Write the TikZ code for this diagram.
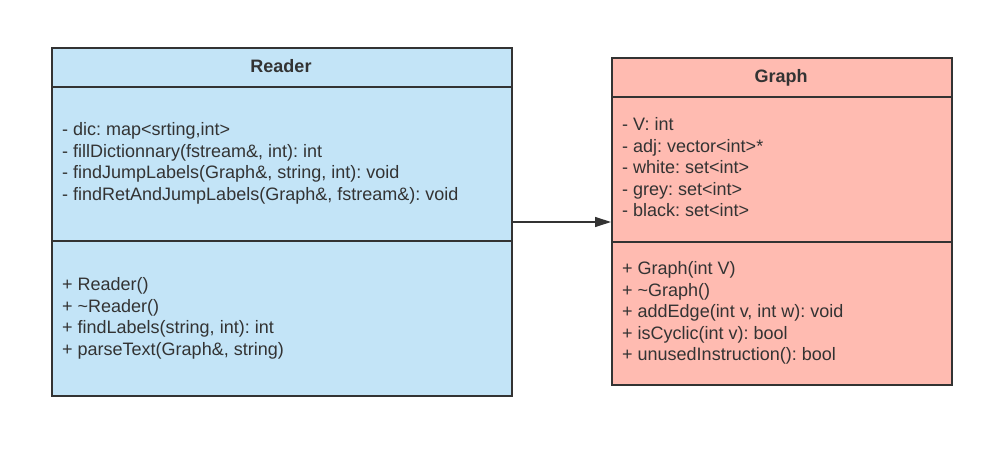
\documentclass[tikz,border=0pt]{standalone}
\usepackage{fontspec}
\setmainfont{Liberation Sans}
\usetikzlibrary{arrows.meta}
\definecolor{rblue}{RGB}{195,228,247}
\definecolor{gpink}{RGB}{255,187,177}
\definecolor{ink}{RGB}{51,51,51}
\frenchspacing
\begin{document}
\begin{tikzpicture}[x=1pt,y=1pt,
  cls/.style={draw=ink,line width=2pt,inner sep=0pt,anchor=south west},
  txt/.style={anchor=base west,inner sep=0pt,text=ink,font=\fontsize{18}{21}\selectfont},
  ttl/.style={anchor=base,inner sep=0pt,text=ink,font=\fontsize{18}{21}\selectfont\bfseries},
  dv/.style={draw=ink,line width=2pt},
  conn/.style={draw=ink,line width=1.2pt,-{Triangle[length=16pt,width=10pt]}}]
\useasboundingbox (0,0) rectangle (1004,452);
\fill[white] (0,0) rectangle (1004,452);
% Reader
\node[cls,fill=rblue,minimum width=460pt,minimum height=348pt] (reader) at (51,55) {};
\draw[dv] (51,365) -- (511,365);
\draw[dv] (51,211) -- (511,211);
\node[ttl] (rt) at (281,379.5) {Reader};
\node[txt] (ra1) at (62,316) {- dic: map<srting,int>};
\node[txt] (ra2) at (62,294.5) {- fillDictionnary(fstream\&, int): int};
\node[txt] (ra3) at (62,273) {- findJumpLabels(Graph\&, string, int): void};
\node[txt] (ra4) at (62,251.5) {- findRetAndJumpLabels(Graph\&, fstream\&): void};
\node[txt] (rm1) at (62,161) {+ Reader()};
\node[txt] (rm2) at (62,139.5) {+ \textasciitilde Reader()};
\node[txt] (rm3) at (62,118) {+ findLabels(string, int): int};
\node[txt] (rm4) at (62,96.5) {+ parseText(Graph\&, string)};
% Graph
\node[cls,fill=gpink,minimum width=340pt,minimum height=327pt] (graph) at (611,66) {};
\draw[dv] (611,355) -- (951,355);
\draw[dv] (611,210) -- (951,210);
\node[ttl] (gt) at (781,369) {Graph};
\node[txt] (ga1) at (622,321) {- V: int};
\node[txt] (ga2) at (622,299.5) {- adj: vector<int>*};
\node[txt] (ga3) at (622,278) {- white: set<int>};
\node[txt] (ga4) at (622,256.5) {- grey: set<int>};
\node[txt] (ga5) at (622,235) {- black: set<int>};
\node[txt] (gm1) at (622,177) {+ Graph(int V)};
\node[txt] (gm2) at (622,155.5) {+ \textasciitilde Graph()};
\node[txt] (gm3) at (622,134) {+ addEdge(int v, int w): void};
\node[txt] (gm4) at (622,112.5) {+ isCyclic(int v): bool};
\node[txt] (gm5) at (622,91) {+ unusedInstruction(): bool};
% connector
\coordinate (cs) at (reader.east |- 0,230);
\coordinate (ce) at (graph.west |- 0,230);
\draw[conn] (cs) -- (ce);
\end{tikzpicture}
\end{document}
